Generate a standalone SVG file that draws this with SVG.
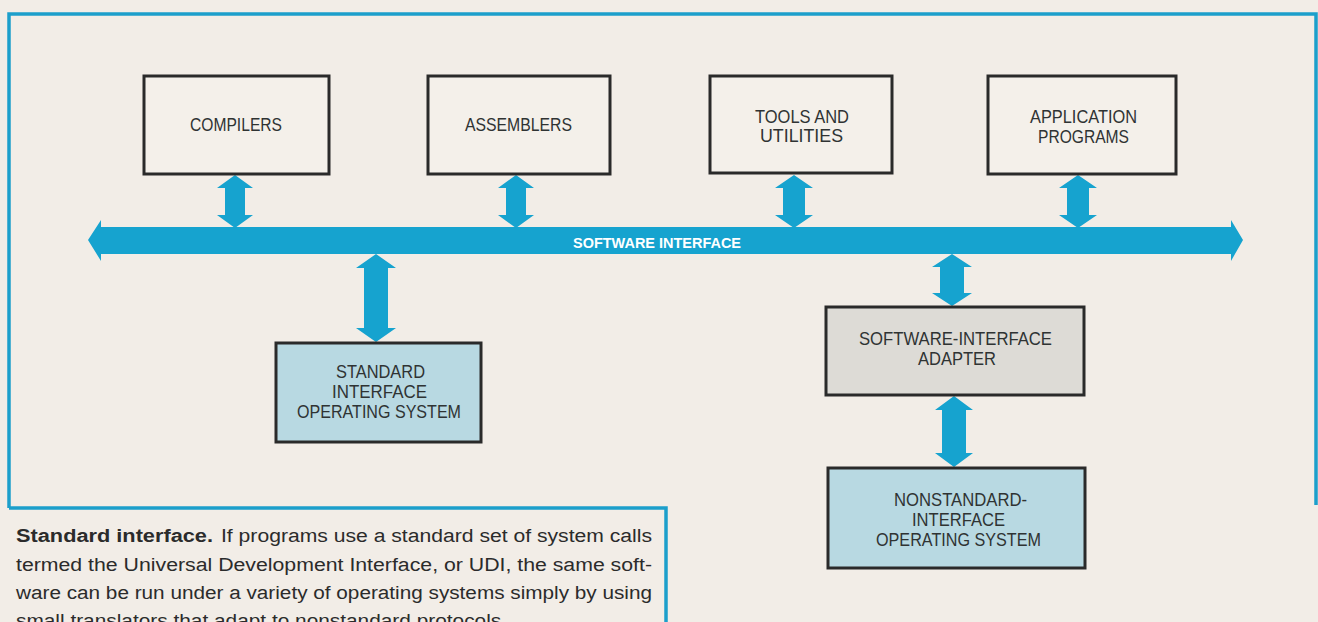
<svg xmlns="http://www.w3.org/2000/svg" width="1318" height="622" viewBox="0 0 1318 622">
<style>
.frame{fill:none;stroke:#1c9fcb;stroke-width:3.5}
.box{stroke:#2a2a2a;stroke-width:3}
.plain{fill:#f4f0ea}
.os{fill:#b8d9e2}
.adp{fill:#dddbd6}
.lbl{font-family:"Liberation Sans",Arial,sans-serif;font-size:18px;fill:#2f3333}
.conn{fill:#16a3cf}
.bus{font-family:"Liberation Sans",Arial,sans-serif;font-size:15px;font-weight:bold;fill:#ffffff}
.cap{font-family:"Liberation Sans",Arial,sans-serif;font-size:18px;fill:#2b2b2b}
</style>
<rect x="0" y="0" width="1318" height="622" fill="#f2ede7"/>
<path class="frame" d="M9,508 L9,14 L1316,14 L1316,505"/>
<path class="frame" d="M9,508 L666,508 L666,622"/>

<g id="connectors">
<path class="conn" d="M88,240 L101,220 L101,227 L1231,227 L1231,220 L1243,240 L1231,261 L1231,254 L101,254 L101,261 Z"/>
<text class="bus" x="573" y="248" textLength="168" lengthAdjust="spacingAndGlyphs">SOFTWARE INTERFACE</text>
<path class="conn" d="M235,175 L253,188 L245,188 L245,215 L253,215 L235,228 L217,215 L225,215 L225,188 L217,188 Z"/>
<path class="conn" d="M516,175 L534,188 L526,188 L526,215 L534,215 L516,228 L498,215 L506,215 L506,188 L498,188 Z"/>
<path class="conn" d="M794,175 L813,188 L805,188 L805,215 L813,215 L794,228 L775,215 L783,215 L783,188 L775,188 Z"/>
<path class="conn" d="M1078,175 L1097,188 L1089,188 L1089,215 L1097,215 L1078,228 L1059,215 L1067,215 L1067,188 L1059,188 Z"/>
<path class="conn" d="M376,254 L396,268 L388,268 L388,328 L396,328 L376,342 L356,328 L364,328 L364,268 L356,268 Z"/>
<path class="conn" d="M952,254 L972,267 L964,267 L964,293 L972,293 L952,306 L932,293 L940,293 L940,267 L932,267 Z"/>
<path class="conn" d="M954,396 L973,410 L966,410 L966,453 L973,453 L954,467 L935,453 L942,453 L942,410 L935,410 Z"/>
</g>

<g id="compilers">
<rect class="box plain" x="144" y="76" width="185" height="98"/>
<text class="lbl" x="190" y="131" textLength="92" lengthAdjust="spacingAndGlyphs">COMPILERS</text>
</g>
<g id="assemblers">
<rect class="box plain" x="428" y="76" width="182" height="98"/>
<text class="lbl" x="465" y="131" textLength="107" lengthAdjust="spacingAndGlyphs">ASSEMBLERS</text>
</g>
<g id="tools">
<rect class="box plain" x="710" y="76" width="182" height="97"/>
<text class="lbl" x="755" y="123" textLength="94" lengthAdjust="spacingAndGlyphs">TOOLS AND</text>
<text class="lbl" x="760" y="142" textLength="83" lengthAdjust="spacingAndGlyphs">UTILITIES</text>
</g>
<g id="applications">
<rect class="box plain" x="988" y="76" width="188" height="98"/>
<text class="lbl" x="1030" y="123" textLength="107" lengthAdjust="spacingAndGlyphs">APPLICATION</text>
<text class="lbl" x="1038" y="143" textLength="91" lengthAdjust="spacingAndGlyphs">PROGRAMS</text>
</g>
<g id="standard-os">
<rect class="box os" x="276" y="343" width="205" height="99"/>
<text class="lbl" x="336" y="378" textLength="89" lengthAdjust="spacingAndGlyphs">STANDARD</text>
<text class="lbl" x="332" y="398" textLength="95" lengthAdjust="spacingAndGlyphs">INTERFACE</text>
<text class="lbl" x="297" y="418" textLength="164" lengthAdjust="spacingAndGlyphs">OPERATING SYSTEM</text>
</g>
<g id="adapter">
<rect class="box adp" x="826" y="307" width="258" height="88"/>
<text class="lbl" x="859" y="345" textLength="193" lengthAdjust="spacingAndGlyphs">SOFTWARE-INTERFACE</text>
<text class="lbl" x="918" y="365" textLength="78" lengthAdjust="spacingAndGlyphs">ADAPTER</text>
</g>
<g id="nonstandard-os">
<rect class="box os" x="828" y="468" width="257" height="100"/>
<text class="lbl" x="894" y="506" textLength="133" lengthAdjust="spacingAndGlyphs">NONSTANDARD-</text>
<text class="lbl" x="912" y="526" textLength="93" lengthAdjust="spacingAndGlyphs">INTERFACE</text>
<text class="lbl" x="876" y="546" textLength="165" lengthAdjust="spacingAndGlyphs">OPERATING SYSTEM</text>
</g>

<g id="caption">
<text class="cap" x="16" y="542" font-weight="bold" textLength="197" lengthAdjust="spacingAndGlyphs">Standard interface.</text>
<text class="cap" x="221" y="542" textLength="431" lengthAdjust="spacingAndGlyphs">If programs use a standard set of system calls</text>
<text class="cap" x="16" y="571" textLength="636" lengthAdjust="spacingAndGlyphs">termed the Universal Development Interface, or UDI, the same soft-</text>
<text class="cap" x="16" y="599" textLength="636" lengthAdjust="spacingAndGlyphs">ware can be run under a variety of operating systems simply by using</text>
<text class="cap" x="16" y="627" textLength="491" lengthAdjust="spacingAndGlyphs">small translators that adapt to nonstandard protocols.</text>
</g>
</svg>
